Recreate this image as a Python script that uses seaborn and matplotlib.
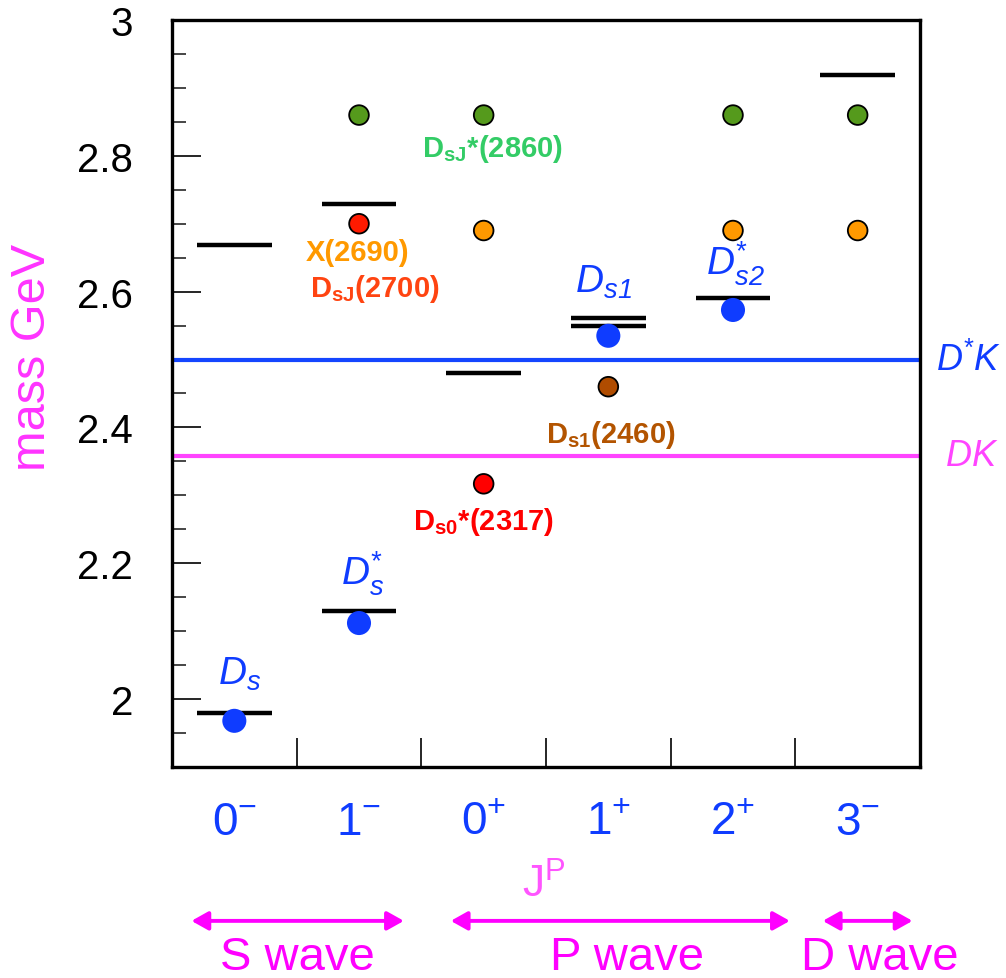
import numpy as np
import pandas as pd
import matplotlib
matplotlib.use("Agg")
import matplotlib.pyplot as plt
import matplotlib.transforms as mtransforms
from matplotlib.ticker import FixedLocator, FuncFormatter
import seaborn as sns

# ---- data -------------------------------------------------------------
categories = ["0-", "1-", "0+", "1+", "2+", "3-"]
category_labels = [r"$\mathtt{0^{-}}$", r"$\mathtt{1^{-}}$", r"$\mathtt{0^{+}}$",
                   r"$\mathtt{1^{+}}$", r"$\mathtt{2^{+}}$", r"$\mathtt{3^{-}}$"]

# quark-model predictions (black bars)
model_jp = ["0-", "0-", "1-", "1-", "0+", "1+", "1+", "2+", "3-"]
model_mass = [1.979, 2.669, 2.129, 2.729, 2.480, 2.550, 2.561, 2.591, 2.919]

# well-established states (blue dots)
ground_jp = ["0-", "1-", "1+", "2+"]
ground_mass = [1.968, 2.112, 2.535, 2.573]
ground_names = [r"$\mathsf{D_{s}}$", r"$\mathsf{D_{s}^{*}}$",
                r"$\mathsf{D_{s1}}$", r"$\mathsf{D_{s2}^{*}}$"]

# newer states (coloured dots)
new_jp = ["1-", "0+", "1+", "0+", "2+", "3-", "1-", "0+", "2+", "3-"]
new_mass = [2.700, 2.317, 2.460, 2.690, 2.690, 2.690, 2.860, 2.860, 2.860, 2.860]
new_state = ["DsJ(2700)", "Ds0*(2317)", "Ds1(2460)",
             "X(2690)", "X(2690)", "X(2690)",
             "DsJ*(2860)", "DsJ*(2860)", "DsJ*(2860)", "DsJ*(2860)"]

threshold_names = [r"$\mathsf{D^{*}K}$", r"$\mathsf{DK}$"]
threshold_mass = [2.500, 2.358]

wave_names = ["S wave", "P wave", "D wave"]

# ---- styling ----------------------------------------------------------
sns.set_theme(style="ticks")
plt.rcParams["font.family"] = ["Liberation Sans", "DejaVu Sans"]
plt.rcParams["mathtext.fontset"] = "custom"
plt.rcParams["mathtext.rm"] = "Liberation Sans"
plt.rcParams["mathtext.it"] = "Liberation Sans:italic"
plt.rcParams["mathtext.bf"] = "Liberation Sans:bold"
plt.rcParams["mathtext.sf"] = "Liberation Sans:italic"
plt.rcParams["mathtext.tt"] = "Liberation Sans"

blue = "#0f3cff"
magenta = "#ff33ff"
state_colors = {"DsJ(2700)": "#ff1a00", "Ds0*(2317)": "#ff0000",
                "Ds1(2460)": "#b04c00", "X(2690)": "#ff9900",
                "DsJ*(2860)": "#559a1c"}

pos = {c: i for i, c in enumerate(categories)}
model = pd.DataFrame({"x": [pos[j] for j in model_jp], "mass": model_mass})
ground = pd.DataFrame({"x": [pos[j] for j in ground_jp], "mass": ground_mass})
new = pd.DataFrame({"x": [pos[j] for j in new_jp], "mass": new_mass, "state": new_state})

fig = plt.figure(figsize=(10.06, 9.79), dpi=100)
ax = fig.add_axes([172 / 1006, 1 - 768 / 979, 748 / 1006, 747 / 979])

# thresholds
threshold_colors = ["#1446ff", "#ff44ff"]
for m, col in zip(threshold_mass, threshold_colors):
    ax.axhline(m, color=col, lw=3.0, zorder=1)

# model bars
ax.hlines(model["mass"], model["x"] - 0.3, model["x"] + 0.3,
          color="black", lw=3.2, zorder=2)

# measured states
sns.scatterplot(data=ground, x="x", y="mass", color=blue, s=300,
                edgecolor="none", linewidth=0, zorder=3, ax=ax, legend=False)
sns.scatterplot(data=new, x="x", y="mass", hue="state", palette=state_colors,
                s=200, edgecolor="black", linewidth=1.3, zorder=3, ax=ax,
                legend=False)

ax.set_xlim(-0.5, 5.5)
ax.set_ylim(1.9, 3.0)

# axes, ticks
for sp in ax.spines.values():
    sp.set_visible(True)
    sp.set_linewidth(2.4)
    sp.set_color("black")

ax.yaxis.set_major_locator(FixedLocator([2.0, 2.2, 2.4, 2.6, 2.8, 3.0]))
ax.yaxis.set_minor_locator(FixedLocator([round(v, 2) for v in np.arange(1.95, 3.0, 0.05)]))
ax.yaxis.set_major_formatter(FuncFormatter(lambda v, p: f"{v:g}"))
ax.tick_params(axis="y", which="major", direction="in", length=21, width=1.2,
               labelsize=29, pad=28, colors="black", right=False)
ax.tick_params(axis="y", which="minor", direction="in", length=10, width=1.2,
               right=False)

ax.xaxis.set_major_locator(FixedLocator(range(len(categories))))
ax.set_xticklabels(category_labels)
ax.xaxis.set_minor_locator(FixedLocator([0.5, 1.5, 2.5, 3.5, 4.5]))
ax.tick_params(axis="x", which="major", length=0, labelsize=33, pad=24,
               labelcolor=blue, top=False)
ax.tick_params(axis="x", which="minor", direction="in", length=21, width=1.4,
               top=False)

ax.set_ylabel("mass GeV", color=magenta, fontsize=35)
ax.yaxis.label.set_verticalalignment("center")
ax.yaxis.set_label_coords(-0.187, 0.549)

ax.set_xlabel(r"$\mathtt{J^{P}}$", color="#ff55ff", fontsize=32)
ax.xaxis.label.set_verticalalignment("center")
ax.xaxis.set_label_coords(0.497, -0.157)

# state names
ground_label_pos = [(0.04, 2.022), (1.03, 2.169), (2.96, 2.600), (4.02, 2.625)]
for name, (lx, ly) in zip(ground_names, ground_label_pos):
    ax.text(lx, ly, name, color=blue, fontsize=28, ha="center", va="baseline", zorder=4)

new_labels = [
    (r"$\mathbf{D_{sJ}}$*(2860)", "#33cc66", 2.07, 2.800),
    ("X(2690)", "#ff9900", 0.99, 2.647),
    (r"$\mathbf{D_{sJ}}$(2700)", "#ff4411", 1.13, 2.594),
    (r"$\mathbf{D_{s1}}$(2460)", "#b35400", 3.02, 2.379),
    (r"$\mathbf{D_{s0}}$*(2317)", "#ff0000", 2.00, 2.250),
]
for txt, col, lx, ly in new_labels:
    ax.text(lx, ly, txt, color=col, fontsize=21, fontweight="bold",
            ha="center", va="baseline", zorder=4)

# threshold names outside the frame
edge = mtransforms.blended_transform_factory(ax.transAxes, ax.transData)
ax.text(1.022, threshold_mass[0], threshold_names[0], transform=edge, color=blue,
        fontsize=26, ha="left", va="center", clip_on=False)
ax.text(1.034, threshold_mass[1], threshold_names[1], transform=edge, color="#ff44ff",
        fontsize=26, ha="left", va="center", clip_on=False)

# partial-wave ranges below the axis
below = mtransforms.blended_transform_factory(ax.transData, ax.transAxes)
wave_spans = [(-0.344, 1.36), (1.736, 4.456), (4.72, 5.44)]
wave_text_x = [0.504, 3.15, 5.176]
for (x0, x1), name, tx in zip(wave_spans, wave_names, wave_text_x):
    ax.annotate("", xy=(x1, -0.206), xytext=(x0, -0.206),
                xycoords=below, textcoords=below, annotation_clip=False,
                arrowprops=dict(arrowstyle="<|-|>,head_length=0.5,head_width=0.28",
                                mutation_scale=20, color="#ff00ff", lw=2.8,
                                shrinkA=0, shrinkB=0))
    ax.text(tx, -0.254, name, transform=below, color="#ff00ff", fontsize=34,
            ha="center", va="center", clip_on=False)

fig.savefig("out.png", dpi=100)
